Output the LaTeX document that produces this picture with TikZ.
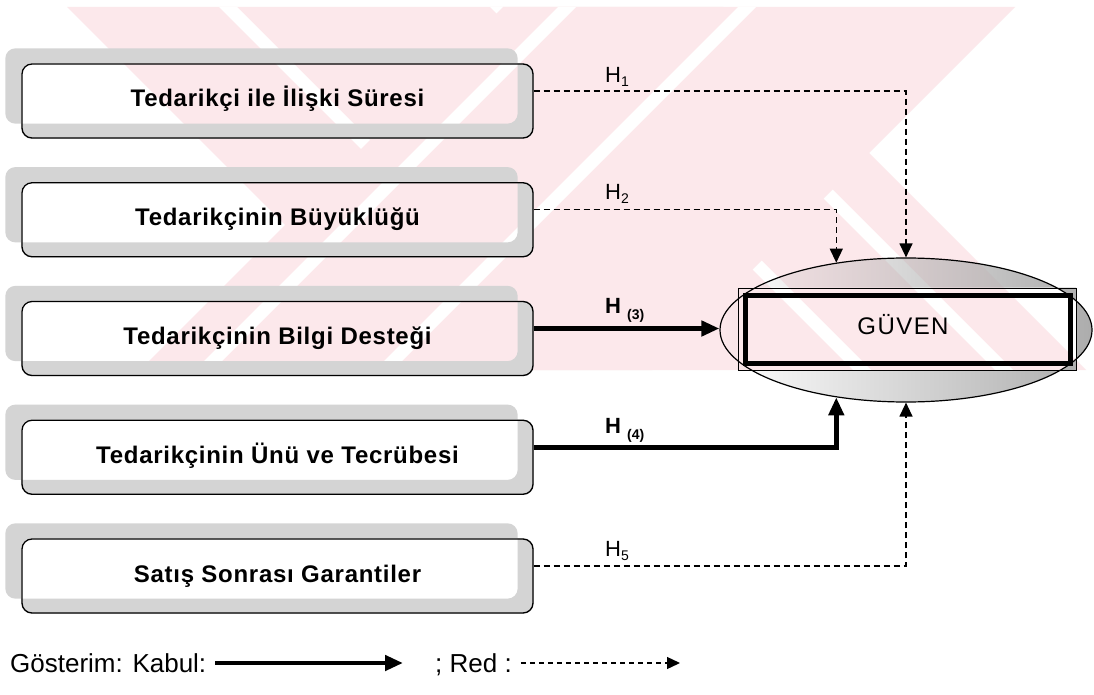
\documentclass[tikz,border=0pt]{standalone}
\usepackage{fontspec}
\setmainfont{Liberation Sans}
\newfontfamily\factorfont{Liberation Sans}[LetterSpace=3]
\newfontfamily\trustfont{Liberation Sans}[LetterSpace=6]
\usetikzlibrary{arrows.meta,shapes.geometric,calc,fadings}
\definecolor{wmpink}{RGB}{252,232,235}
\definecolor{shadowgray}{RGB}{212,212,212}
\tikzfading[name=fadegray, left color=transparent!100, middle color=transparent!100, right color=transparent!0]
\pgfdeclarelayer{wm}
\pgfdeclarelayer{bg}
\pgfsetlayers{wm,bg,main}
\newcommand\hsub[1]{\raisebox{-4pt}{\fontsize{14}{14}\selectfont #1}}
\newcommand\hpar[1]{\hspace{6pt}\raisebox{-6pt}{\fontsize{14}{14}\selectfont (#1)}}

\begin{document}
\begin{tikzpicture}[x=1pt,y=-1pt,
  factor/.style={draw, line width=1.3pt, rounded corners=10pt,
    minimum width=511pt, minimum height=74pt, inner sep=0pt,
    text height=18pt, text depth=6pt,
    font=\factorfont\bfseries\fontsize{24}{28}\selectfont},
  hlab/.style={anchor=base west, inner sep=0pt, font=\fontsize{22}{24}\selectfont},
  legtext/.style={anchor=base west, inner sep=0pt, font=\fontsize{26}{30}\selectfont},
  rej/.style={line width=1.3pt, dash pattern=on 6pt off 4pt,
    -{Triangle[length=14pt,width=13pt]}},
  acc/.style={line width=4.5pt, line join=miter,
    -{Triangle[length=18pt,width=15pt]}}]

\useasboundingbox (0,0) rectangle (1094,695);

% factor boxes
\node[factor] (b1) at (277.5,101)    {Tedarikçi ile İlişki Süresi};
\node[factor] (b2) at (277.5,219.75) {Tedarikçinin Büyüklüğü};
\node[factor] (b3) at (277.5,338.5)  {Tedarikçinin Bilgi Desteği};
\node[factor] (b4) at (277.5,457.25) {Tedarikçinin Ünü ve Tecrübesi};
\node[factor] (b5) at (277.5,576)    {Satış Sonrası Garantiler};

% outcome: ellipse with double frame
\node[draw, ellipse, line width=1.2pt, minimum width=372pt, minimum height=144pt,
  inner sep=0pt] (guv) at (906,330) {};
\node[draw, line width=0.9pt, minimum width=338pt, minimum height=82pt,
  inner sep=0pt] (gout) at (907,329) {};
\node[draw, line width=5pt, minimum width=325pt, minimum height=68pt,
  inner sep=0pt] (gin) at (907.5,329) {};
\node[inner sep=0pt, text height=17pt, text depth=0pt,
  font=\trustfont\fontsize{24}{28}\selectfont] (gtxt) at (903,326) {GÜVEN};

% connector start points
\coordinate (o1) at ($(b1.east)+(0,-10)$);
\coordinate (o2) at ($(b2.east)+(0,-10)$);
\coordinate (o3) at ($(b3.east)+(0,-10)$);
\coordinate (o4) at ($(b4.east)+(0,-10)$);
\coordinate (o5) at ($(b5.east)+(0,-10)$);

\draw[rej] (o1) -| (guv.north);
\draw[rej] (o2) -| (guv.136);
\draw[acc] (o3) -- (guv.west |- o3);
\draw[acc] (o4) -| (guv.224);
\draw[rej] (o5) -| (guv.south);

% hypothesis labels
\node[hlab] (h1) at (605,83)  {H\hsub{1}};
\node[hlab] (h2) at (605,200) {H\hsub{2}};
\node[hlab] (h3) at (605,313) {\bfseries H\hpar{3}};
\node[hlab] (h4) at (605,433) {\bfseries H\hpar{4}};
\node[hlab] (h5) at (605,556) {H\hsub{5}};

% legend
\node[legtext] (lg1) at (10,672) {Gösterim: Kabul:};
\coordinate (ka) at ($(lg1.base east)+(9,-9)$);
\coordinate (kb) at (403,663);
\draw[line width=4.5pt, -{Triangle[length=18pt,width=15pt]}] (ka) -- (kb);
\node[legtext] (lg2) at (435,672) {; Red :};
\coordinate (ra) at ($(lg2.base east)+(9,-9)$);
\coordinate (rb) at (680,663);
\draw[line width=1.3pt, dash pattern=on 5pt off 4pt,
  -{Triangle[length=13pt,width=12pt]}] (ra) -- (rb);

% box shadows and ellipse shading
\begin{pgfonlayer}{bg}
  \foreach \b in {b1,b2,b3,b4,b5}
    \fill[shadowgray, even odd rule, rounded corners=10pt]
      ($(\b.north west)+(-16,-15)$) rectangle ($(\b.south east)+(-16,-15)$)
      (\b.north west) rectangle (\b.south east);
  \fill[black!32, path fading=fadegray, even odd rule]
    (guv.center) ellipse [x radius=186pt, y radius=72pt]
    (gout.north west) rectangle (gout.south east);
\end{pgfonlayer}

% faint striped emblem behind the diagram
\begin{pgfonlayer}{wm}
  \fill[white] (0,0) rectangle (1094,695);
  \fill[wmpink] (67,7) -- (723,7) -- (1086,370) -- (430,370) -- cycle;
  \foreach \c in {212,483,625}
    \fill[white] (\c+7,7) -- (\c+25,7) -- (\c+388,370) -- (\c+370,370) -- cycle;
  \fill[wmpink] (503,7) -- (1015,7) -- (652,370) -- (140,370) -- cycle;
  \foreach \s in {565,745}
    \fill[white] (\s-7,7) -- (\s+11,7) -- (\s-352,370) -- (\s-370,370) -- cycle;
\end{pgfonlayer}
\end{tikzpicture}
\end{document}
